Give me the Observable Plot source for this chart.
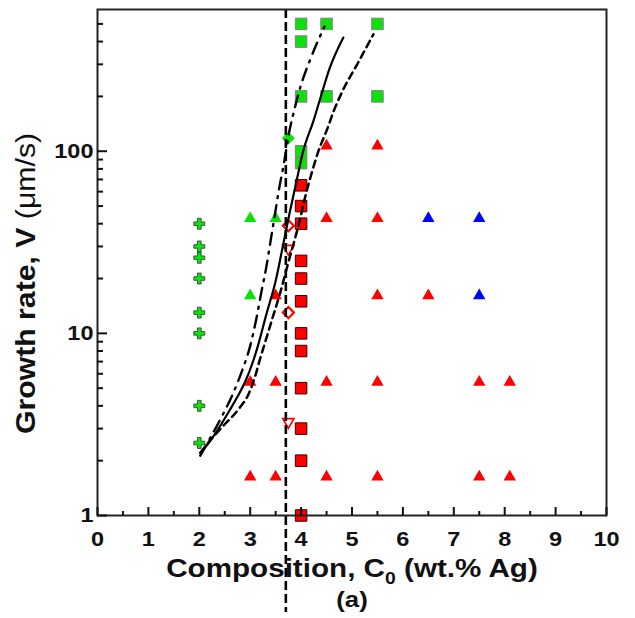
<!DOCTYPE html>
<html><head><meta charset="utf-8">
<script src="https://cdn.jsdelivr.net/npm/d3@7"></script>
<script src="https://cdn.jsdelivr.net/npm/@observablehq/plot@0.6"></script>
<style>body{margin:0;background:#fff} svg{display:block}</style>
</head><body><div id="chart"></div>
<script>
// ---- axis ticks ----
const xTickLabels = [0,1,2,3,4,5,6,7,8,9,10];
const xMinorTicks = [0.5,1.5,2.5,3.5,4.5,5.5,6.5,7.5,8.5,9.5];
const yTickLabels = [1,10,100];
const yMinorTicks = [2,3,4,5,6,7,8,9,20,30,40,50,60,70,80,90,200,300,400,500];

// ---- data ----
const greenSquareX = [4,4,4,4,4,4.5,4.5,5.5,5.5];
const greenSquareV = [500,400,200,100,86,500,200,500,200];
const redSquareX = [4,4,4,4,4,4,4,4,4,4,4,4];
const redSquareV = [1,2,3,5,8,10,15,20,25,40,50,65];
const redTriX = [4.5,5.5, 4.5,5.5, 3.5,5.5,6.5, 3,3.5,4.5,5.5,7.5,8.1, 3,3.5,4.5,5.5,7.5,8.1];
const redTriV = [107,107, 42.8,42.8, 16.1,16.1,16.1, 5.4,5.4,5.4,5.4,5.4,5.4, 1.63,1.63,1.63,1.63,1.63,1.63];
const blueTriX = [6.5,7.5,7.5];
const blueTriV = [42.8,42.8,16.1];
const greenTriX = [3,3.5,3];
const greenTriV = [42.8,42.8,16.1];
const crossX = [2,2,2,2,2,2,2,2];
const crossV = [2.5,4,10,13,20,26,30,40];
const greenDiamondX = [3.75];
const greenDiamondV = [118];
const redDiamondX = [3.75,3.75];
const redDiamondV = [39,13];
const redDownTriX = [3.75,3.75];
const redDownTriV = [28.6,3.2];

// model curves
const solidX = [2.02,2.22,2.40,2.59,2.76,2.91,3.04,3.14,3.32,3.50,3.63,3.77,3.91,4.04,4.24,4.36,4.56,4.83];
const solidV = [2.21,2.58,3.07,3.76,4.54,5.49,6.81,8.33,12.8,19.4,29.0,45.2,68.5,100,146,188,285,421];
const dashDotX = [2.02,2.22,2.42,2.66,2.84,3.00,3.12,3.22,3.32,3.40,3.48,3.56,3.67,3.77,3.87,3.99,4.18,4.46];
const dashDotV = [2.13,2.68,3.40,4.66,6.23,8.54,12.0,16.9,23.4,32.1,44.0,60.4,88.1,129,170,227,319,484];
const dashX = [2.02,2.26,2.51,2.78,2.98,3.10,3.20,3.32,3.44,3.60,3.73,3.85,3.97,4.06,4.19,4.34,4.52,4.64,4.81,5.11,5.42];
const dashV = [2.21,2.68,3.19,3.86,4.72,5.85,7.34,9.45,12.2,17.1,23.4,30.9,41.3,53.2,72.9,100,134,166,213,303,438];
const boundaryX = [3.7];

const zip = (xs, vs) => xs.map((x, i) => ({x, v: vs[i]}));

const downTriangle = {
  draw(ctx, size) {
    const s = Math.sqrt(size) * 0.6824, u = s * Math.sqrt(3) / 2;
    const h = 1.5 * s;
    ctx.moveTo(-u, -h / 2);
    ctx.lineTo(u, -h / 2);
    ctx.lineTo(0, h / 2);
    ctx.closePath();
  }
};

const font = "'Liberation Sans', Arial, Helvetica, sans-serif";
const GREEN = "#0ae20a", RED = "#ff0000", BLUE = "#0000ff";
const plotH = 618 - 9 - 103, plotW = 635 - 97 - 29;

const chart = Plot.plot({
  width: 635, height: 618,
  marginLeft: 97, marginRight: 29, marginTop: 9, marginBottom: 103,
  style: {fontFamily: font, background: "white", overflow: "visible", color: "#111"},
  x: {domain: [0, 10], axis: null},
  y: {type: "log", domain: [1, 600], axis: null},
  marks: [
    // markers
    Plot.dot(zip(greenSquareX, greenSquareV), {x: "x", y: "v", symbol: "square", r: 6.5, fill: GREEN, stroke: "#808080", strokeWidth: 1}),
    Plot.dot(zip(redSquareX, redSquareV), {x: "x", y: "v", symbol: "square", r: 6.5, fill: RED, stroke: "#3a0000", strokeWidth: 1}),
    Plot.dot(zip(redTriX, redTriV), {x: "x", y: "v", symbol: "triangle", r: 4.6, fill: RED}),
    Plot.dot(zip(blueTriX, blueTriV), {x: "x", y: "v", symbol: "triangle", r: 4.6, fill: BLUE}),
    Plot.dot(zip(greenTriX, greenTriV), {x: "x", y: "v", symbol: "triangle", r: 4.6, fill: GREEN}),
    Plot.dot(zip(crossX, crossV), {x: "x", y: "v", symbol: "cross", r: 4.6, fill: GREEN, stroke: "#333", strokeWidth: 0.8}),
    Plot.dot(zip(greenDiamondX, greenDiamondV), {x: "x", y: "v", symbol: "diamond2", r: 5.4, fill: GREEN, stroke: GREEN, strokeWidth: 1}),
    Plot.dot(zip(redDiamondX, redDiamondV), {x: "x", y: "v", symbol: "diamond2", r: 5, fill: "none", stroke: RED, strokeWidth: 2.2}),
    Plot.dot(zip(redDownTriX, redDownTriV), {x: "x", y: "v", symbol: downTriangle, r: 5.3, fill: "none", stroke: RED, strokeWidth: 1.7}),
    // curves
    Plot.line(zip(solidX, solidV), {x: "x", y: "v", curve: "monotone-x", stroke: "#000", strokeWidth: 2.2}),
    Plot.line(zip(dashDotX, dashDotV), {x: "x", y: "v", curve: "monotone-x", stroke: "#000", strokeWidth: 2.4, strokeDasharray: "12,7,2,7"}),
    Plot.line(zip(dashX, dashV), {x: "x", y: "v", curve: "monotone-x", stroke: "#000", strokeWidth: 2.5, strokeDasharray: "7,5"}),
    Plot.ruleX(boundaryX, {stroke: "#000", strokeWidth: 2.6, strokeDasharray: "9,4", insetBottom: -97}),
    // frame + inward ticks
    Plot.frame({stroke: "#222", strokeWidth: 2}),
    Plot.tickX(xTickLabels, {x: d => d, insetTop: plotH - 8, stroke: "#111", strokeWidth: 2}),
    Plot.tickX(xMinorTicks, {x: d => d, insetTop: plotH - 4, stroke: "#111", strokeWidth: 2}),
    Plot.tickY(yTickLabels, {y: d => d, insetRight: plotW - 10, stroke: "#111", strokeWidth: 2}),
    Plot.tickY(yMinorTicks, {y: d => d, insetRight: plotW - 6, stroke: "#111", strokeWidth: 2}),
    // tick labels
    Plot.axisX(xTickLabels, {label: null, tickSize: 0, tickPadding: 16, fontSize: 21, fontWeight: "bold", tickFormat: d => String(d)}),
    Plot.axisY(yTickLabels, {label: null, tickSize: 0, tickPadding: 4, fontSize: 21, fontWeight: "bold", tickFormat: d => String(d)}),
    // titles
    Plot.text(["Composition, C0 (wt.% Ag)"], {frameAnchor: "bottom", dy: 61, fontSize: 26, fontWeight: "bold", text: d => d}),
    Plot.text(["(a)"], {frameAnchor: "bottom", dy: 91, fontSize: 23, fontWeight: "bold", text: d => d}),
    Plot.text(["Growth rate, V (μm/s)"], {frameAnchor: "left", textAnchor: "middle", rotate: -90, dx: -71, dy: 21, fontSize: 27, fontWeight: "bold", text: d => d})
  ]
});

// post-processing: rich text for titles, slight horizontal stretch of text like the original
function stretch(t, sx) {
  const tr = t.getAttribute("transform");
  if (tr) t.setAttribute("transform", tr + ` scale(${sx},1)`);
}
chart.querySelectorAll('[aria-label="x-axis tick label"] text, [aria-label="y-axis tick label"] text').forEach(t => stretch(t, 1.12));
const NS = "http://www.w3.org/2000/svg";
function ts(parent, str, attrs) {
  const e = document.createElementNS(NS, "tspan");
  e.textContent = str;
  for (const k in attrs) e.setAttribute(k, attrs[k]);
  parent.appendChild(e);
  return e;
}
chart.querySelectorAll("text").forEach(t => {
  if (t.textContent === "Composition, C0 (wt.% Ag)") {
    t.textContent = "";
    ts(t, "Composition, C");
    ts(t, "0", {"font-size": "17", dy: "7"});
    ts(t, " (wt.% Ag)", {dy: "-7"});
    stretch(t, 1.14);
  } else if (t.textContent === "Growth rate, V (μm/s)") {
    t.textContent = "";
    ts(t, "Growth rate, V ");
    ts(t, "(μm/s)", {"font-weight": "normal"});
    stretch(t, 1.12);
  } else if (t.textContent === "(a)") {
    stretch(t, 1.12);
  }
});
document.getElementById("chart").appendChild(chart);
</script>
</body></html>
